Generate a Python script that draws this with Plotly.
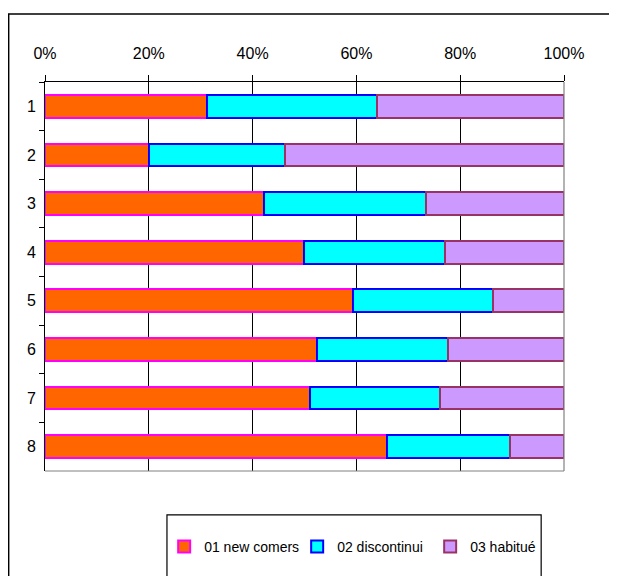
import plotly.graph_objects as go

# ── data ──────────────────────────────────────────────────────────────────────
categories = ["1", "2", "3", "4", "5", "6", "7", "8"]
new_comers = [31.2, 20.0, 42.2, 49.9, 59.3, 52.4, 51.1, 65.9]
discontinui = [32.8, 26.2, 31.2, 27.2, 27.0, 25.2, 25.0, 23.7]
habitue = [36.0, 53.8, 26.6, 22.9, 13.7, 22.4, 23.9, 10.4]
tick_vals = [0, 20, 40, 60, 80, 100]
tick_text = ["0%", "20%", "40%", "60%", "80%", "100%"]

FONT = "Liberation Sans Narrow, Arial Narrow, Liberation Sans, Arial, sans-serif"

series = [
    ("01 new comers", new_comers, "#FF6600", "#FF00FF"),
    ("02 discontinui", discontinui, "#00FFFF", "#0000FF"),
    ("03 habitué", habitue, "#CC99FF", "#993366"),
]

fig = go.Figure()
for name, vals, fill, edge in series:
    fig.add_trace(go.Bar(
        y=categories, x=vals, name=name, orientation="h",
        marker=dict(color=fill, line=dict(color=edge, width=2)),
    ))

# page body has an 8px margin, so the figure is drawn 8px smaller and offset
fig.update_layout(
    barmode="stack",
    bargap=0.53,
    width=609, height=568,
    margin=dict(l=37, r=53, t=74, b=105, autoexpand=False),
    paper_bgcolor="white", plot_bgcolor="white",
    font=dict(family=FONT, size=16, color="black"),
    showlegend=True,
    legend=dict(
        orientation="h", traceorder="normal",
        x=0.2296, y=-0.195, xanchor="left", yanchor="middle",
        font=dict(size=14), itemwidth=30, tracegroupgap=0,
        entrywidth=88, entrywidthmode="pixels",
        bgcolor="rgba(0,0,0,0)",
    ),
    shapes=[
        # outer chart frame
        dict(type="rect", xref="paper", yref="paper",
             x0=-0.0700, x1=1.2, y0=-0.35, y1=1.1748,
             line=dict(color="black", width=1.5), layer="below"),
        # legend box
        dict(type="rect", xref="paper", yref="paper",
             x0=0.235, x1=0.956, y0=-0.35, y1=-0.113,
             line=dict(color="black", width=1.2)),
        # right / bottom plot border
        dict(type="line", xref="paper", yref="paper",
             x0=1, x1=1, y0=0, y1=1, line=dict(color="#808080", width=1.2)),
        dict(type="line", xref="paper", yref="paper",
             x0=0, x1=1, y0=0, y1=0, line=dict(color="#808080", width=1.2)),
    ],
)

fig.update_xaxes(
    side="top", range=[0, 100], tickvals=tick_vals, ticktext=tick_text,
    showgrid=True, gridcolor="black", gridwidth=1,
    showline=True, linecolor="black", linewidth=1,
    ticks="outside", ticklen=6, tickcolor="black",
    ticklabelstandoff=10, zeroline=False, automargin=False,
)
fig.update_yaxes(
    autorange="reversed", showgrid=False,
    showline=True, linecolor="black", linewidth=1,
    ticks="outside", ticklen=5, tickcolor="black", tickson="boundaries",
    ticklabelstandoff=5, automargin=False,
)

fig.write_html("out.html")
